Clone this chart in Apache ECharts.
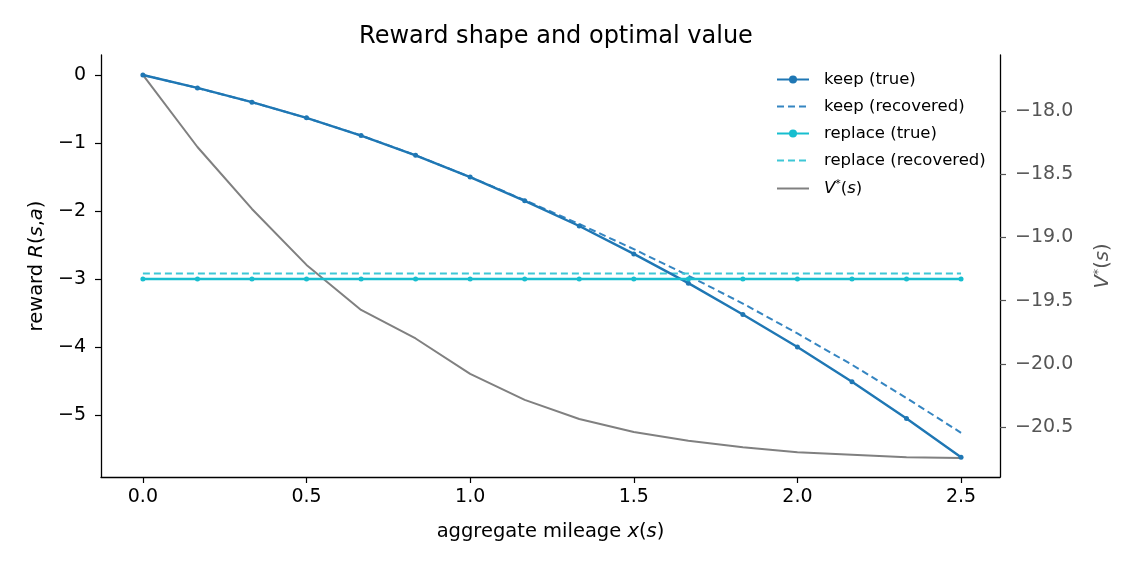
<!DOCTYPE html>
<html>
<head>
<meta charset="utf-8">
<script src="https://cdn.jsdelivr.net/npm/echarts@6/dist/echarts.min.js"></script>
<style>
html, body { margin: 0; padding: 0; background: #fff; }
#main { width: 1140px; height: 570px; }
</style>
</head>
<body>
<div id="main"></div>
<script>
// mileage grid
var mileage = [0, 0.1667, 0.3333, 0.5, 0.6667, 0.8333, 1.0, 1.1667, 1.3333, 1.5, 1.6667, 1.8333, 2.0, 2.1667, 2.3333, 2.5];
var keepTrue = [0, -0.19, -0.40, -0.63, -0.89, -1.18, -1.50, -1.85, -2.22, -2.63, -3.06, -3.52, -4.00, -4.51, -5.05, -5.62];
var keepRecovered = [0, -0.19, -0.40, -0.63, -0.89, -1.18, -1.50, -1.84, -2.19, -2.56, -2.95, -3.36, -3.80, -4.26, -4.75, -5.26];
var replaceTrue = [-3, -3, -3, -3, -3, -3, -3, -3, -3, -3, -3, -3, -3, -3, -3, -3];
var replaceRecovered = [-2.92, -2.92, -2.92, -2.92, -2.92, -2.92, -2.92, -2.92, -2.92, -2.92, -2.92, -2.92, -2.92, -2.92, -2.92, -2.92];
var vStar = [-17.715, -18.285, -18.775, -19.218, -19.574, -19.80, -20.08, -20.286, -20.437, -20.54, -20.61, -20.66, -20.70, -20.72, -20.74, -20.745];

var xTicks = [0, 0.5, 1.0, 1.5, 2.0, 2.5];
var leftTicks = [0, -1, -2, -3, -4, -5];
var rightTicks = [-18.0, -18.5, -19.0, -19.5, -20.0, -20.5];

function pairs(ys) {
    return mileage.map(function (x, i) { return [x, ys[i]]; });
}
function minus(v, d) {
    var s = Math.abs(v).toFixed(d);
    return (v < 0 ? '\u2212' : '') + s;
}

var font = 'DejaVu Sans';
var myChart = echarts.init(document.getElementById('main'), null, {renderer: 'canvas'});

option = {
    backgroundColor: '#fff',
    animation: false,
    textStyle: { fontFamily: font },
    title: {
        text: 'Reward shape and optimal value',
        left: 551,
        textAlign: 'center',
        top: 20,
        textStyle: { fontFamily: font, fontSize: 24, fontWeight: 'normal', color: '#000' }
    },
    grid: { left: 101, right: 140, top: 55, bottom: 93 },
    legend: {
        left: 776,
        top: 71,
        padding: 0,
        orient: 'vertical',
        itemWidth: 32,
        itemHeight: 10,
        itemGap: 10,
        textStyle: {
            fontFamily: font, fontSize: 16.5, color: '#000',
            padding: [0, 0, 0, 10],
            rich: {
                i: { fontStyle: 'italic', fontSize: 16.5, fontFamily: font },
                s: { fontSize: 11, verticalAlign: 'top', fontFamily: font, padding: [0, 0, 8, 0] },
                n: { fontSize: 16.5, fontFamily: font }
            }
        },
        formatter: function (name) {
            if (name === 'V*') return '{i|V}{s|*}{n|(}{i|s}{n|)}';
            return name;
        },
        data: [
            'keep (true)',
            { name: 'keep (recovered)', itemStyle: { opacity: 0 } },
            'replace (true)',
            { name: 'replace (recovered)', itemStyle: { opacity: 0 } },
            { name: 'V*', itemStyle: { opacity: 0 } }
        ]
    },
    xAxis: {
        type: 'value',
        min: -0.128,
        max: 2.619,
        name: 'aggregate mileage {i|x}({i|s})',
        nameLocation: 'middle',
        nameGap: 45,
        nameTextStyle: {
            fontSize: 19.5, color: '#000', fontFamily: font,
            rich: { i: { fontStyle: 'italic', fontSize: 19.5, fontFamily: font } }
        },
        splitLine: { show: false },
        axisLine: { onZero: false, lineStyle: { color: '#000', width: 1.3 } },
        axisTick: { customValues: xTicks, length: 6, inside: false, lineStyle: { color: '#000', width: 1.2 } },
        axisLabel: {
            customValues: xTicks, color: '#000', fontSize: 19, margin: 11,
            formatter: function (v) { return minus(v, 1); }
        }
    },
    yAxis: [
        {
            type: 'value',
            min: -5.91,
            max: 0.294,
            position: 'left',
            name: 'reward {i|R}({i|s},{i|a})',
            nameLocation: 'middle',
            nameGap: 53,
            nameTextStyle: {
                fontSize: 19.5, color: '#000', fontFamily: font,
                rich: { i: { fontStyle: 'italic', fontSize: 19.5, fontFamily: font } }
            },
            splitLine: { show: false },
            axisLine: { show: true, onZero: false, lineStyle: { color: '#000', width: 1.3 } },
            axisTick: { show: true, customValues: leftTicks, length: 6, lineStyle: { color: '#000', width: 1.2 } },
            axisLabel: {
                customValues: leftTicks, color: '#000', fontSize: 19, margin: 15,
                formatter: function (v) { return minus(v, 0); }
            }
        },
        {
            type: 'value',
            min: -20.896,
            max: -17.557,
            position: 'right',
            name: '{i|V}{s|*}({i|s})',
            nameLocation: 'middle',
            nameGap: 92,
            nameRotate: 90,
            nameTextStyle: {
                fontSize: 19.5, color: '#555', fontFamily: font,
                rich: {
                    i: { fontStyle: 'italic', fontSize: 19.5, color: '#555', fontFamily: font },
                    s: { fontSize: 13, color: '#555', verticalAlign: 'top', padding: [0, 0, 9, 0], fontFamily: font }
                }
            },
            splitLine: { show: false },
            axisLine: { show: true, onZero: false, lineStyle: { color: '#000', width: 1.3 } },
            axisTick: { show: true, customValues: rightTicks, length: 6, lineStyle: { color: '#555', width: 1.2 } },
            axisLabel: {
                customValues: rightTicks, color: '#555', fontSize: 19, margin: 15,
                formatter: function (v) { return minus(v, 1); }
            }
        }
    ],
    series: [
        {
            name: 'V*',
            type: 'line',
            yAxisIndex: 1,
            data: pairs(vStar),
            symbol: 'none',
            z: 1,
            lineStyle: { color: '#808080', width: 2 },
            itemStyle: { color: '#808080' }
        },
        {
            name: 'keep (true)',
            type: 'line',
            data: pairs(keepTrue),
            symbol: 'circle',
            symbolSize: 5,
            z: 3,
            lineStyle: { color: '#1f77b4', width: 2.4 },
            itemStyle: { color: '#1f77b4' }
        },
        {
            name: 'keep (recovered)',
            type: 'line',
            data: pairs(keepRecovered),
            symbol: 'none',
            z: 2,
            lineStyle: { color: '#3585c1', width: 2, type: [7, 4] },
            itemStyle: { color: '#3585c1' }
        },
        {
            name: 'replace (true)',
            type: 'line',
            data: pairs(replaceTrue),
            symbol: 'circle',
            symbolSize: 5,
            z: 3,
            lineStyle: { color: '#17becf', width: 2.4 },
            itemStyle: { color: '#17becf' }
        },
        {
            name: 'replace (recovered)',
            type: 'line',
            data: pairs(replaceRecovered),
            symbol: 'none',
            z: 2,
            lineStyle: { color: '#3ec7d6', width: 2, type: [7, 4] },
            itemStyle: { color: '#3ec7d6' }
        }
    ]
};
myChart.setOption(option);
</script>
</body>
</html>
